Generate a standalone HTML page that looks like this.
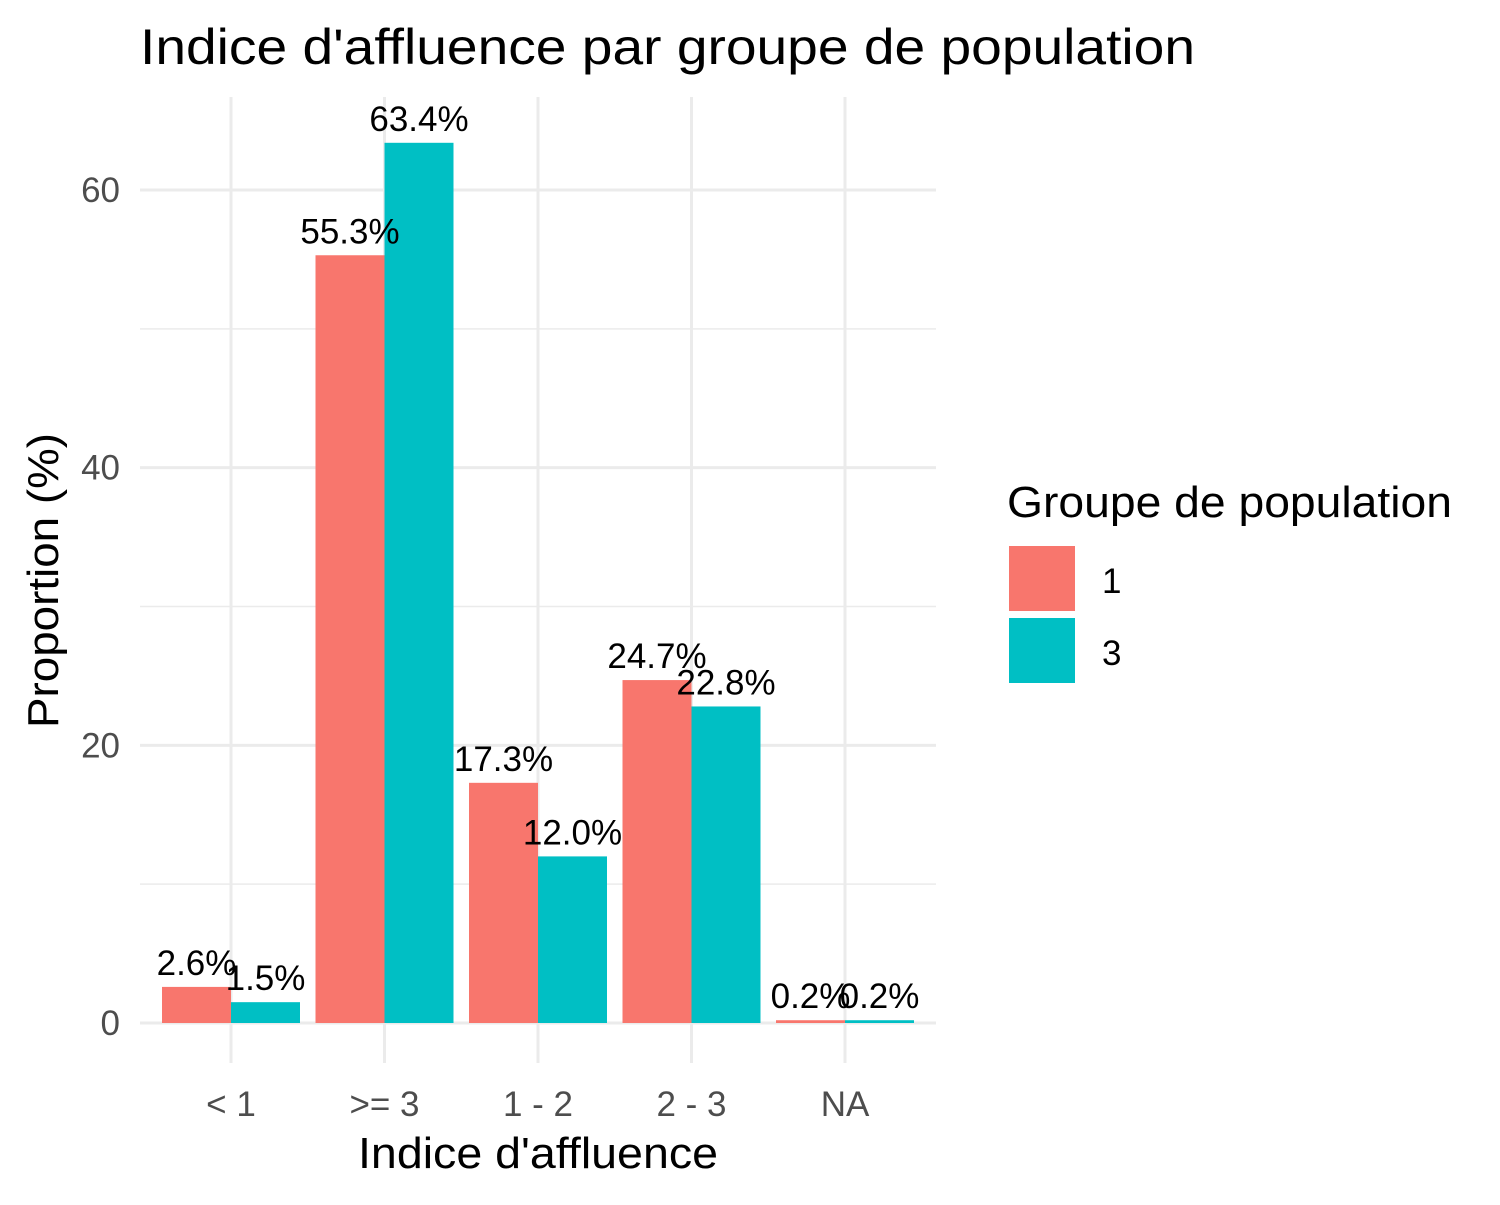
<!DOCTYPE html>
<html><head><meta charset="utf-8"><style>
body{margin:0;background:#fff;}
svg text{font-family:"Liberation Sans",Arial,sans-serif;}
</style></head><body>
<svg id="chart" width="1500" height="1200" xmlns="http://www.w3.org/2000/svg">
<rect width="1500" height="1200" fill="#fff"/>
<text x="140" y="64" font-size="50" textLength="1055" lengthAdjust="spacingAndGlyphs" fill="#000">Indice d'affluence par groupe de population</text>
<g id="grid"></g>
<g id="bars"></g>
<g id="labels"></g>
<g id="axes"></g>
<text x="358" y="1168" font-size="44" textLength="360" lengthAdjust="spacingAndGlyphs" fill="#000">Indice d'affluence</text>
<text transform="translate(58,728) rotate(-90)" font-size="44" textLength="295" lengthAdjust="spacingAndGlyphs" fill="#000">Proportion (%)</text>
<g>
<text x="1007" y="517" font-size="44" textLength="445" lengthAdjust="spacingAndGlyphs" fill="#000">Groupe de population</text>
<rect x="1009" y="546" width="66" height="65" fill="#F8766D"/>
<text x="1102" y="593" font-size="35" fill="#000">1</text>
<rect x="1009" y="618" width="66" height="65" fill="#00BFC4"/>
<text x="1102" y="665" font-size="35" fill="#000">3</text>
</g>
</svg>
<script>
const categories = ["< 1", ">= 3", "1 - 2", "2 - 3", "NA"];
const group1 = [2.6, 55.3, 17.3, 24.7, 0.2];
const group3 = [1.5, 63.4, 12.0, 22.8, 0.2];
const yTicks = [0, 20, 40, 60];
const yMinor = [10, 30, 50];
const NS = "http://www.w3.org/2000/svg";
const x0 = 140, x1 = 936, yTop = 97;
function y(v){ return 1023 - v * (1023 - 190) / 60; }
function xc(i){ return 231 + i * 153.5; }
const bw = 69;
function mk(tag, attrs, parent){ const e = document.createElementNS(NS, tag); for (const k in attrs) e.setAttribute(k, attrs[k]); document.getElementById(parent).appendChild(e); return e; }
yMinor.forEach(v => { const l = mk('line', {x1:x0, x2:x1, y1:y(v), y2:y(v), stroke:'#ebebeb', 'stroke-width':1.5}, 'grid');
  
   });
yTicks.forEach(v => { const l = mk('line', {x1:x0, x2:x1, y1:y(v), y2:y(v), stroke:'#ebebeb', 'stroke-width':3}, 'grid');
  
  
  const t = mk('text', {x:120, y:y(v)+12, 'font-size':35, fill:'#4d4d4d', 'text-anchor':'end'}, 'axes'); t.textContent = v;
  
   });
categories.forEach((c, i) => { const l = mk('line', {x1:xc(i), x2:xc(i), y1:yTop, y2:1063, stroke:'#ebebeb', 'stroke-width':3}, 'grid');
  
  
  const t = mk('text', {x:xc(i), y:1116, 'font-size':35, fill:'#4d4d4d', 'text-anchor':'middle'}, 'axes'); t.textContent = c;
  
   });
[[group1, '#F8766D', -1], [group3, '#00BFC4', 0]].forEach(([vals, col, off], g) => {
  vals.forEach((v, i) => {
    const bx = xc(i) + off * bw;
    const r = mk('rect', {x:bx, y:y(v), width:bw, height:y(0)-y(v), fill:col}, 'bars');
    
    
    const t = mk('text', {x:bx + bw/2, y:y(v) - 12, 'font-size':35, fill:'#000', 'text-anchor':'middle'}, 'labels');
    t.textContent = v.toFixed(1) + '%';
    
    
  });
});
</script>
</body></html>
